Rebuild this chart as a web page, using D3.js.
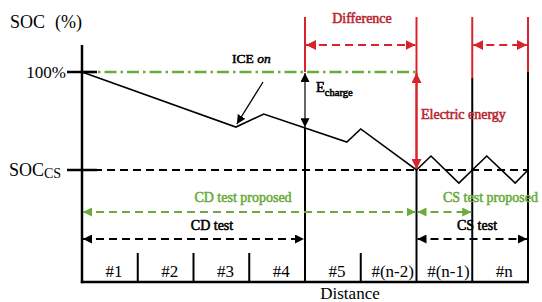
<!DOCTYPE html>
<html><head><meta charset="utf-8">
<script src="https://cdn.jsdelivr.net/npm/d3@7"></script>
<style>html,body{margin:0;padding:0;background:#fff;}svg{display:block;}</style>
</head><body>
<script>
// ---- data ----
const cycleLabels = ["#1","#2","#3","#4","#5","#(n-2)","#(n-1)","#n"];
const fullBoundaries = [4, 6, 7, 8];
const shortTicks = [1, 2, 3, 5];
const socDistance = [0, 2.76, 3.26, 4.75, 5.0, 6.0, 6.26, 6.76, 7.26, 7.77, 8.0];
const socValues   = [100, 60.7, 70, 50, 59.3, 30, 40, 20.7, 40, 20.7, 30];
const socLevels = [100, 30];           // 100% and SOC_CS
const cdEnd = 4, cdProposedEnd = 6, csProposedEnd = 7, csEnd = 8;

const W = 542, H = 302;
const RED = "#d8232c", RED_T = "#b8262f", GREEN = "#6aab3c", SERIF = "'Liberation Serif','Times New Roman',serif";
const svg = d3.select("body").append("svg").attr("width", W).attr("height", H);
const x = d3.scaleLinear().domain([0, 8]).range([82, 528]);
const y = d3.scaleLinear().domain([-50, 120]).range([282, 44]);

const defs = svg.append("defs");
function marker(id, color, size) {
  const m = defs.append("marker").attr("id", id).attr("viewBox", "0 0 10 10")
    .attr("refX", 10).attr("refY", 5).attr("markerUnits", "userSpaceOnUse")
    .attr("markerWidth", size).attr("markerHeight", size).attr("orient", "auto-start-reverse");
  m.append("path").attr("d", "M0,0L10,5L0,10Z").attr("fill", color);
}
marker("ak", "#000", 9); marker("ar", RED, 10); marker("ag", GREEN, 9);

// cycle ticks
svg.selectAll("line.short").data(shortTicks).join("line")
  .attr("x1", d => x(d)).attr("x2", d => x(d)).attr("y1", 253).attr("y2", y(-50))
  .attr("stroke", "#000").attr("stroke-width", 2);

// full boundaries: black lower part, red upper part
const redBottom = {4: y(100), 6: y(30), 7: y(95.7), 8: y(100)};
fullBoundaries.forEach(b => {
  const lowTop = b === 4 ? y(60) : redBottom[b];
  svg.append("line").attr("x1", x(b)).attr("x2", x(b)).attr("y1", lowTop).attr("y2", y(-50))
    .attr("stroke", "#000").attr("stroke-width", 2);
  svg.append("line").attr("x1", x(b)).attr("x2", x(b)).attr("y1", 17).attr("y2", redBottom[b])
    .attr("stroke", RED).attr("stroke-width", 2);
});

// green 100% dash-dot line
svg.append("line").attr("x1", x(0)).attr("x2", x(cdProposedEnd)).attr("y1", y(socLevels[0])).attr("y2", y(socLevels[0]))
  .attr("stroke", GREEN).attr("stroke-width", 2.5).attr("stroke-dasharray", "12,4,2.5,4");

// SOC_CS dashed line
svg.append("line").attr("x1", x(0) + 12).attr("x2", x(8)).attr("y1", y(socLevels[1])).attr("y2", y(socLevels[1]))
  .attr("stroke", "#000").attr("stroke-width", 2).attr("stroke-dasharray", "8,5");

// axes
svg.append("line").attr("x1", x(0)).attr("x2", x(0)).attr("y1", 45).attr("y2", y(-50) + 1.2)
  .attr("stroke", "#000").attr("stroke-width", 2.5);
svg.append("line").attr("x1", x(0) - 1.2).attr("x2", x(8) + 1).attr("y1", y(-50)).attr("y2", y(-50))
  .attr("stroke", "#000").attr("stroke-width", 2.5);
socLevels.forEach(v => {
  svg.append("line").attr("x1", 67).attr("x2", 97).attr("y1", y(v)).attr("y2", y(v))
    .attr("stroke", "#000").attr("stroke-width", 2.5);
});

// SOC trace
const line = d3.line().x(d => x(d[0])).y(d => y(d[1]));
svg.append("path").attr("d", line(socDistance.map((d, i) => [d, socValues[i]])))
  .attr("fill", "none").attr("stroke", "#000").attr("stroke-width", 1.6).attr("stroke-linejoin", "miter");

// arrows
function arrow(x1, y1, x2, y2, color, mk, w, dash, both = true) {
  const l = svg.append("line").attr("x1", x1).attr("y1", y1).attr("x2", x2).attr("y2", y2)
    .attr("stroke", color).attr("stroke-width", w).attr("marker-end", `url(#${mk})`);
  if (both) l.attr("marker-start", `url(#${mk})`);
  if (dash) l.attr("stroke-dasharray", dash);
}
arrow(x(0) + 1, 212, x(cdProposedEnd) - 1, 212, GREEN, "ag", 2, "8,5");
arrow(x(cdProposedEnd) + 1, 212, x(csProposedEnd) - 1, 212, GREEN, "ag", 2, "8,5");
arrow(x(0) + 1, 239, x(cdEnd) - 1, 239, "#000", "ak", 2, "8,5");
arrow(x(cdProposedEnd) + 1, 239, x(csEnd) - 1, 239, "#000", "ak", 2, "8,5");
arrow(x(cdEnd) + 1, 45, x(cdProposedEnd) - 1, 45, RED, "ar", 2, "8,5");
arrow(x(csProposedEnd) + 1, 45, x(csEnd) - 1, 45, RED, "ar", 2, "8,5");
// E_charge
arrow(x(cdEnd), y(100) + 1, x(cdEnd), y(60.5), "#000", "ak", 1.2, null);
// Electric energy
arrow(x(cdProposedEnd), y(100) + 1, x(cdProposedEnd), y(30) - 1, RED, "ar", 2, null);
// ICE on pointer
arrow(263, 82, x(2.76) + 1, y(60.7) - 3, "#000", "ak", 1.3, null, false);

// texts
function txt(s, tx, ty, size, opts = {}) {
  const fill = opts.fill || "#000";
  const t = svg.append("text").attr("x", tx).attr("y", ty).attr("font-family", SERIF)
    .attr("font-size", size).attr("fill", fill)
    .attr("text-anchor", opts.anchor || "start").text(s);
  if (opts.bold) t.attr("stroke", fill).attr("stroke-width", 0.55).attr("paint-order", "stroke");
  return t;
}
txt("SOC", 10, 28, 18);
txt("(%)", 55, 28, 18);
txt("100%", 66, y(100) + 6, 17, {anchor: "end"});
const sc = txt("SOC", 9, y(30) + 6, 18);
sc.append("tspan").attr("font-size", 14).attr("dy", 2).text("CS");

cycleLabels.forEach((c, i) => {
  txt(c, (x(i) + x(i + 1)) / 2 + 4, 277, 17, {anchor: "middle"});
});
txt("Distance", 350, 299, 17, {anchor: "middle"});

const ice = txt("ICE ", 232, 63, 13.5, {bold: true});
ice.append("tspan").attr("font-style", "italic").text("on");
const ec = txt("E", 316, 92, 14.5, {bold: true});
ec.append("tspan").attr("font-size", 10.5).attr("dy", 4).text("charge");
txt("Difference", 362, 23, 14, {bold: true, fill: RED_T, anchor: "middle"});
txt("Electric energy", 421, 119, 14, {bold: true, fill: RED_T});
txt("CD test proposed", 243, 202, 14, {bold: true, fill: GREEN, anchor: "middle"});
txt("CS test proposed", 443, 202, 14, {bold: true, fill: GREEN});
txt("CD test", 212, 230, 14, {bold: true, anchor: "middle"});
txt("CS test", 477, 230, 14, {bold: true, anchor: "middle"});
</script>
</body></html>
